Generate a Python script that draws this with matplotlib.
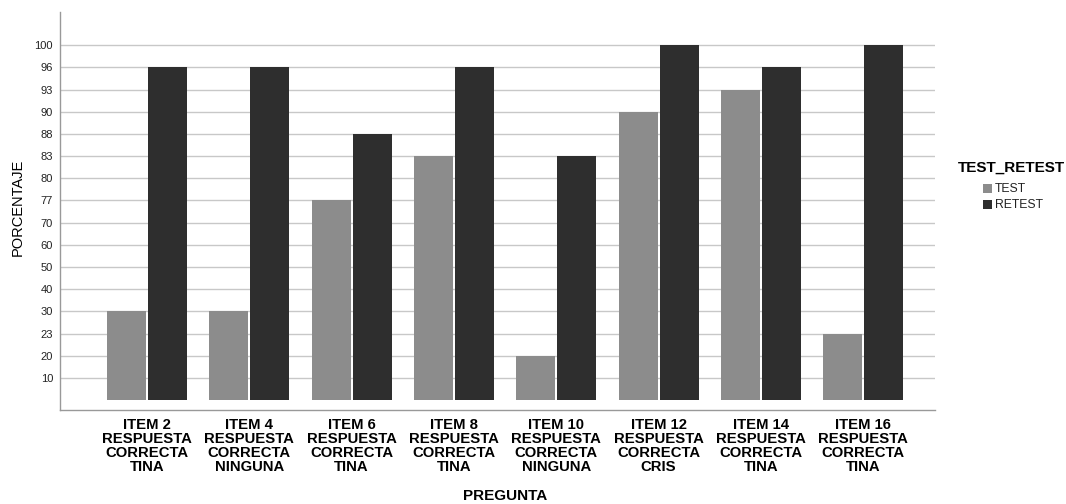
import matplotlib
matplotlib.use("Agg")
import matplotlib.pyplot as plt
import numpy as np
from matplotlib.patches import Rectangle

plt.rcParams['font.family'] = ['Liberation Sans', 'DejaVu Sans']

categories = [
    "ITEM 2\nRESPUESTA\nCORRECTA\nTINA",
    "ITEM 4\nRESPUESTA\nCORRECTA\nNINGUNA",
    "ITEM 6\nRESPUESTA\nCORRECTA\nTINA",
    "ITEM 8\nRESPUESTA\nCORRECTA\nTINA",
    "ITEM 10\nRESPUESTA\nCORRECTA\nNINGUNA",
    "ITEM 12\nRESPUESTA\nCORRECTA\nCRIS",
    "ITEM 14\nRESPUESTA\nCORRECTA\nTINA",
    "ITEM 16\nRESPUESTA\nCORRECTA\nTINA",
]
test = [30, 30, 77, 83, 20, 90, 93, 23]
retest = [96, 96, 88, 96, 83, 100, 96, 100]
# the y axis is categorical (ordinal levels, equally spaced)
y_levels = [10, 20, 23, 30, 40, 50, 60, 70, 77, 80, 83, 88, 90, 93, 96, 100]
series_names = ["TEST", "RETEST"]

c_test = "#8c8c8c"
c_retest = "#2e2e2e"

def to_pos(vals):
    return [y_levels.index(v) + 1 for v in vals]

W, H = 1066, 504
fig = plt.figure(figsize=(W/100, H/100), dpi=100)
ax = fig.add_axes([60/W, 1-410/H, (935-60)/W, (410-12)/H])

x = np.arange(len(categories))
w = 0.38
ax.bar(x - 0.2, to_pos(test), width=w, color=c_test, zorder=3)
ax.bar(x + 0.2, to_pos(retest), width=w, color=c_retest, zorder=3)

ax.set_xlim(-0.85, 7.70)
ax.set_ylim(-0.45, 17.5)
ax.set_yticks(range(1, len(y_levels) + 1))
ax.set_yticklabels([str(v) for v in y_levels], fontsize=8, color="#222222")
ax.set_xticks(x)
ax.set_xticklabels(categories, fontsize=10.7, fontweight="bold", linespacing=0.98)
ax.tick_params(axis="y", length=0, pad=5)
ax.tick_params(axis="x", length=0, pad=6)
ax.yaxis.grid(True, color="#c8c8c8", linewidth=1.0, zorder=0)
ax.set_axisbelow(True)
for s in ["top", "right"]:
    ax.spines[s].set_visible(False)
for s in ["left", "bottom"]:
    ax.spines[s].set_color("#999999")
    ax.spines[s].set_linewidth(1.0)

fig.text(18/W, 1-207/H, "PORCENTAJE", rotation=90, ha="center", va="center", fontsize=10.5)
fig.text(505/W, 1-496/H, "PREGUNTA", ha="center", va="center", fontsize=11, fontweight="bold")

# legend (drawn manually to match the indentation)
fig.text(958/W, 1-168/H, "TEST_RETEST", ha="left", va="center", fontsize=11, fontweight="bold")
for i, (name, col) in enumerate(zip(series_names, [c_test, c_retest])):
    yc = 189 + 16*i
    fig.patches.append(Rectangle((983/W, 1-(yc+4)/H), 9/W, 9/H, transform=fig.transFigure,
                                 facecolor=col, edgecolor="none"))
    fig.text(995/W, 1-yc/H, name, ha="left", va="center", fontsize=8.8, color="#222222")

fig.savefig("out.png", dpi=100)
